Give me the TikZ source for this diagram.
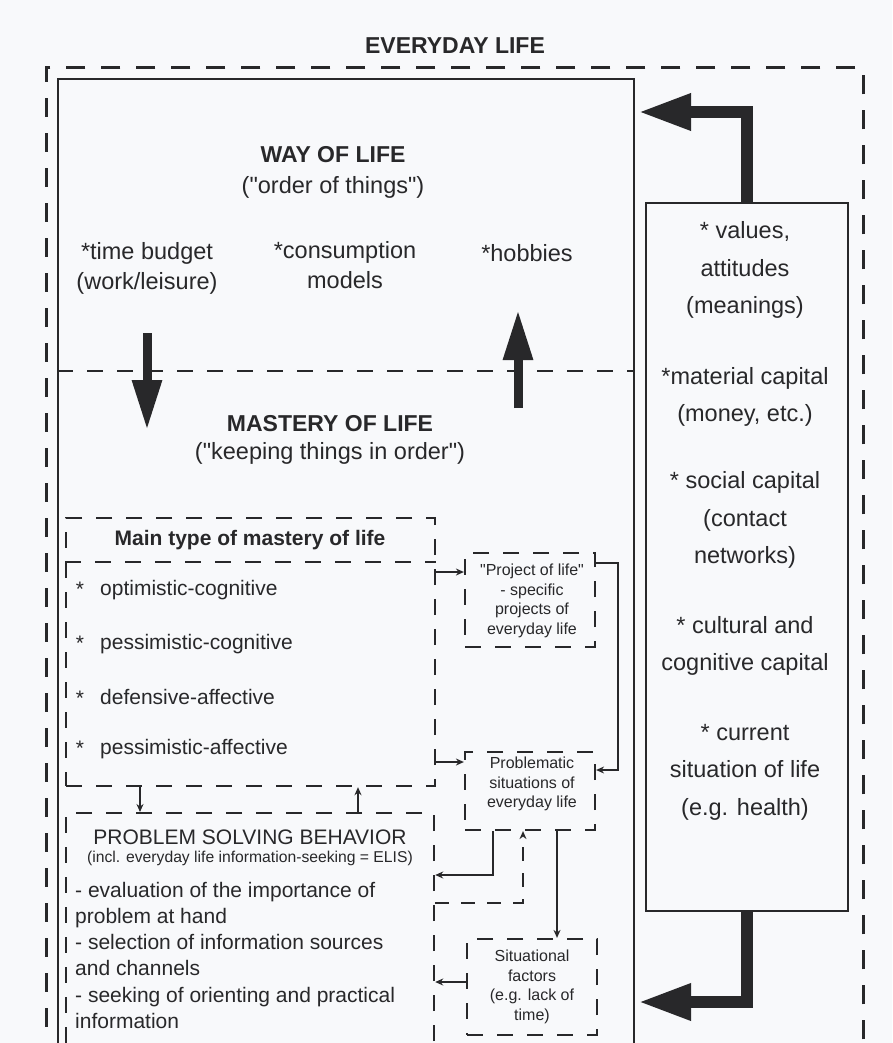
\documentclass[tikz,border=0pt]{standalone}
\usepackage{fontspec}
\setmainfont{Liberation Sans}[Ligatures=TeXOff]
\usetikzlibrary{arrows.meta}
\definecolor{ink}{RGB}{40,40,42}
\definecolor{paper}{RGB}{248,249,251}
\begin{document}
\begin{tikzpicture}[x=1pt,y=-1pt,
  every node/.style={inner sep=0pt, text=ink},
  outerframe/.style={draw=ink, line width=2.6pt, dash pattern=on 19pt off 16pt},
  solidframe/.style={draw=ink, line width=2pt},
  dashframe/.style={draw=ink, line width=2.2pt, dash pattern=on 16pt off 14pt},
  conn/.style={draw=ink, line width=1.5pt, -{Stealth[length=8pt,width=7pt]}},
  bigarrow/.style={draw=ink, line width=12pt, line join=miter, -{Triangle[length=53pt,width=34pt]}},
  midarrow/.style={draw=ink, line width=9pt, -{Triangle[length=50pt,width=28pt]}},
  heading/.style={font=\fontsize{23}{28}\selectfont\bfseries},
  body/.style={font=\fontsize{23.5}{30}\selectfont, align=center},
  res/.style={font=\fontsize{23.5}{37.5}\selectfont, align=center},
  item/.style={font=\fontsize{21}{26}\selectfont, anchor=mid west},
  small/.style={font=\fontsize{16}{19.5}\selectfont, align=center}]

\useasboundingbox (0,0) rectangle (892,1043);
\fill[paper] (0,0) rectangle (892,1043);
\clip (0,0) rectangle (892,1043);

% title and frames
\node[heading] (title) at (455,46) {EVERYDAY LIFE};
\node[outerframe, minimum width=817pt, minimum height=1100pt, anchor=north west] (everyday) at (45,66) {};
\node[solidframe, minimum width=576pt, minimum height=1100pt, anchor=north west] (lifebox) at (57,78) {};
\node[solidframe, minimum width=202pt, minimum height=708pt, anchor=north west] (resources) at (645,202) {};

% way of life / mastery of life
\draw[dashframe] (lifebox.west |- 0,371) -- (lifebox.east |- 0,371);
\node[heading] (way) at (333,155) {WAY OF LIFE};
\node[body] (wayorder) at (333,187) {("order of things")};
\node[body] (timebudget) at (147,268) {*time budget\\(work/leisure)};
\node[body] (consumption) at (345,265) {*consumption\\models};
\node[body] (hobbies) at (527,253) {*hobbies};
\node[heading] (mastery) at (330,424) {MASTERY OF LIFE};
\node[body] (keeping) at (330,453) {("keeping things in order")};

\coordinate (downstart) at (147,333);
\coordinate (downend) at (147,430);
\coordinate (upstart) at (518,408);
\coordinate (upend) at (518,310);
\draw[midarrow] (downstart) -- (downend);
\draw[midarrow] (upstart) -- (upend);

% resources
\node[res] (values) at (745,270) {* values,\\attitudes\\(meanings)};
\node[res] (material) at (745,397) {*material capital\\(money, etc.)};
\node[res] (social) at (745,520) {* social capital\\(contact\\networks)};
\node[res] (cultural) at (745,646) {* cultural and\\cognitive capital};
\node[res] (current) at (745,772) {* current\\situation of life\\(e.g. health)};

\draw[bigarrow, shorten >=3pt] (resources.north) |- (lifebox.east |- 0,112);
\draw[bigarrow, shorten >=3pt] (resources.south) |- (lifebox.east |- 0,1002);

% main type of mastery of life
\node[dashframe, minimum width=369pt, minimum height=268pt, anchor=north west] (maintype) at (65,517) {};
\draw[dashframe] (maintype.west |- 0,562) -- (maintype.east |- 0,562);
\node[font=\fontsize{21}{26}\selectfont\bfseries] (maintitle) at (250,540) {Main type of mastery of life};
\foreach \y/\t [count=\i] in {593/optimistic-cognitive, 647/pessimistic-cognitive, 702/defensive-affective, 752/pessimistic-affective}{
  \node[font=\fontsize{21}{26}\selectfont] (star\i) at (80,\y-4) {*};
  \node[item] (type\i) at (100,\y) {\t};
}

% problem solving behaviour
\node[dashframe, minimum width=368pt, minimum height=400pt, anchor=north west] (psb) at (65,812) {};
\node[font=\fontsize{21}{26}\selectfont] (psbtitle) at (250,837) {PROBLEM SOLVING BEHAVIOR};
\node[font=\fontsize{15.7}{19}\selectfont] (elis) at (250,858) {(incl. everyday life information-seeking = ELIS)};
\foreach \y/\t [count=\i] in {895/- evaluation of the importance of, 921/problem at hand, 947/- selection of information sources, 973/and channels, 1000/- seeking of orienting and practical, 1026/information}{
  \node[item] (psbline\i) at (75,\y) {\t};
}

% small boxes
\node[dashframe, minimum width=130pt, minimum height=94pt] (project) at (530,600) {};
\node[small] (projecttext) at (532,601) {"Project of life"\\- specific\\projects of\\everyday life};
\node[dashframe, minimum width=130pt, minimum height=78pt] (problem) at (530,791) {};
\node[small] (problemtext) at (532,784) {Problematic\\situations of\\everyday life};
\node[dashframe, minimum width=130pt, minimum height=96pt] (situational) at (532,987) {};
\node[small] (situationaltext) at (532,987) {Situational\\factors\\(e.g. lack of\\time)};

% connectors
\draw[conn] (maintype.south -| 140,0) -- (psb.north -| 140,0);
\draw[conn] (psb.north -| 358,0) -- (maintype.south -| 358,0);
\draw[conn] (maintype.east |- 0,572) -- (project.west |- 0,572);
\draw[conn] (maintype.east |- 0,762) -- (problem.west |- 0,762);
\draw[conn] (project.east |- 0,563) -| (618,770) -- (problem.east |- 0,770);
\draw[conn] (problem.south -| 493,0) |- (psb.east |- 0,875);
\draw[conn, dash pattern=on 14pt off 12pt] (psb.east |- 0,903) -| (problem.south -| 523,0);
\draw[conn] (problem.south -| 557,0) -- (situational.north -| 557,0);
\draw[conn] (situational.west |- 0,982) -- (psb.east |- 0,982);
\end{tikzpicture}
\end{document}
